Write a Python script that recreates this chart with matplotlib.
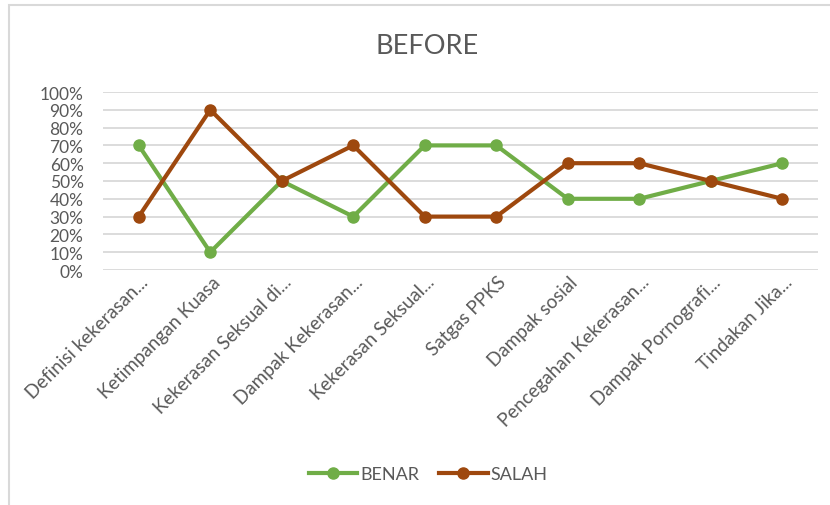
import matplotlib
matplotlib.use("Agg")
import matplotlib.pyplot as plt
import matplotlib.transforms as mtransforms
from matplotlib.patches import Rectangle
from matplotlib.ticker import PercentFormatter

# data
categories = ["Definisi kekerasan...", "Ketimpangan Kuasa", "Kekerasan Seksual di...",
              "Dampak Kekerasan...", "Kekerasan Seksual...", "Satgas PPKS",
              "Dampak sosial", "Pencegahan Kekerasan...", "Dampak Pornografi...",
              "Tindakan Jika..."]
benar = [70, 10, 50, 30, 70, 70, 40, 40, 50, 60]
salah = [30, 90, 50, 70, 30, 30, 60, 60, 50, 40]

GREEN = "#70AD47"
BROWN = "#9E480E"
GREY = "#595959"
GRID = "#D9D9D9"

plt.rcParams['font.family'] = ['Lato', 'DejaVu Sans']

fig = plt.figure(figsize=(8.3, 5.06), dpi=100)
ax = fig.add_axes([103/830, 1-271/506, (818-103)/830, (271-93)/506])

x = list(range(len(categories)))
ax.plot(x, benar, color=GREEN, lw=3, marker='o', ms=8, label="BENAR", zorder=3)
ax.plot(x, salah, color=BROWN, lw=3, marker='o', ms=8, label="SALAH", zorder=3)

ax.set_xlim(-0.5, len(categories) - 0.5)
ax.set_ylim(0, 100)
ax.set_yticks(range(0, 101, 10))
ax.yaxis.set_major_formatter(PercentFormatter(decimals=0))
ax.grid(axis='y', color=GRID, lw=1.3)
ax.set_axisbelow(True)
for s in ax.spines.values():
    s.set_visible(False)
ax.tick_params(axis='y', length=0, pad=14, labelsize=12.5, labelcolor=GREY)
ax.tick_params(axis='x', length=0)

ax.set_xticks(x)
ax.set_xticklabels(categories, rotation=45, ha='right', va='center',
                   rotation_mode='anchor', fontsize=13.5, color=GREY)
offset = mtransforms.ScaledTranslation(7/100, -4/100, fig.dpi_scale_trans)
for lbl in ax.get_xticklabels():
    lbl.set_transform(lbl.get_transform() + offset)

fig.text(427/830, 1-46/506, "BEFORE", ha='center', va='center', fontsize=19.5, color=GREY)

leg = fig.legend(loc='center', bbox_to_anchor=(428/830, 1-475/506), ncol=2, frameon=False,
                 handlelength=2.7, handletextpad=0.15, columnspacing=1.1,
                 prop={'size': 13})
for t in leg.get_texts():
    t.set_color(GREY)

# chart-area border (only left and top visible in the screenshot)
fig.patches.append(Rectangle((9/830, -0.1), 1.2, 1 + 0.1 - 6/506, transform=fig.transFigure,
                             fill=False, edgecolor=GRID, lw=1.5))

fig.savefig("out.png", dpi=100)
